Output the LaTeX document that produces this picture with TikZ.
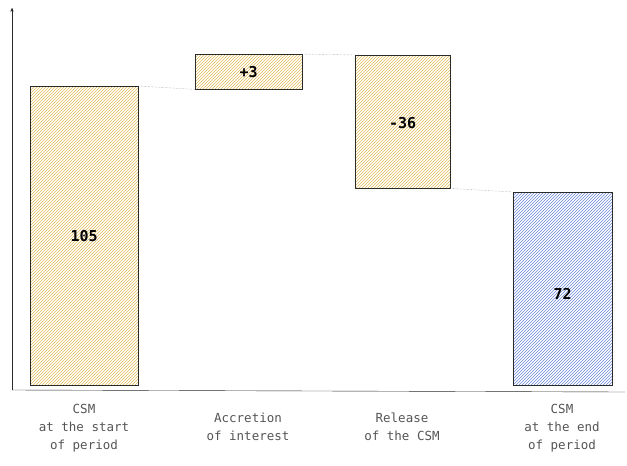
\documentclass[tikz,border=0pt]{standalone}
\usepackage{fontspec}
\setmonofont{DejaVu Sans Mono}
\usetikzlibrary{arrows,patterns,positioning}
\definecolor{ochre}{HTML}{E2BC5A}
\definecolor{steel}{HTML}{6A86DC}
\definecolor{ink}{HTML}{2A2A2A}
\definecolor{caption}{HTML}{555555}
\tikzset{
  bar/.style={draw=ink,thin,pattern=north east lines,anchor=north west,inner sep=0pt},
  value/.style={font=\ttfamily\bfseries\fontsize{15}{18}\selectfont,text=black},
  lead/.style={densely dotted,gray},
  axislabel/.style={font=\ttfamily\fontsize{12.5}{18}\selectfont,text=caption,align=center}
}
\begin{document}
\begin{tikzpicture}[x=1pt,y=-1pt,>=stealth']
\useasboundingbox (0,0) rectangle (627,466);

% axes
\coordinate (o) at (12,390);
\coordinate (top) at (12,8);
\coordinate (right) at (625,392);
\draw[->,ink] (o) -- (top);
\draw[ink] (o) -- (right);

% bars
\node[bar,pattern color=ochre,minimum width=108,minimum height=299] (start) at (30,86) {};
\node[bar,pattern color=ochre,minimum width=107,minimum height=35] (accr) at (195,54) {};
\node[bar,pattern color=ochre,minimum width=95,minimum height=133] (rel) at (355,55) {};
\node[bar,pattern color=steel,minimum width=99,minimum height=193] (end) at (513,192) {};

% values
\node[value] (v1) at (start.center) {105};
\node[value] (v2) at (accr.center) {+3};
\node[value] (v3) at ([yshift=-1]rel.center) {-36};
\node[value] (v4) at ([yshift=-5]end.center) {72};

% leaders
\draw[lead] (start.north east) -- (accr.south west);
\draw[lead] (accr.north east) -- (rel.north west);
\draw[lead] (rel.south east) -- (end.north west);

% captions
\node[axislabel] (c1) at (84,428) {CSM\\at the start\\of period};
\node[axislabel] (c2) at (248,427) {Accretion\\of interest};
\node[axislabel] (c3) at (402,427) {Release\\of the CSM};
\node[axislabel] (c4) at (562,428) {CSM\\at the end\\of period};
\end{tikzpicture}
\end{document}
